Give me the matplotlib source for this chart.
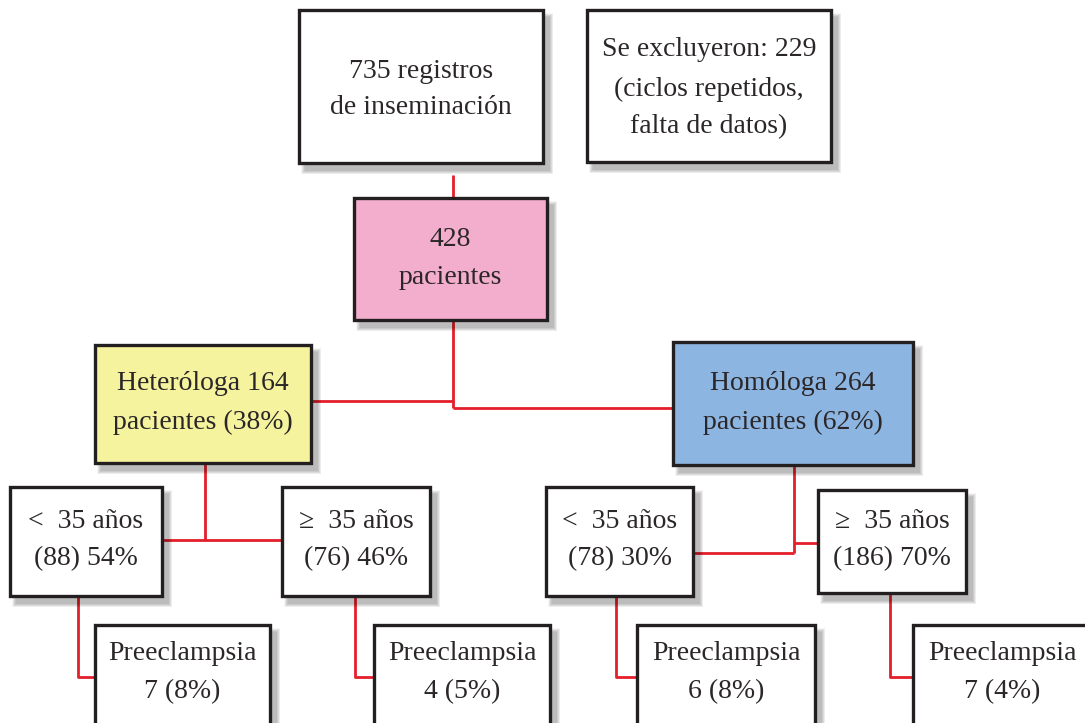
import matplotlib
matplotlib.use("Agg")
import matplotlib.pyplot as plt
from matplotlib.patches import Rectangle

# ---- data (texts) ----
top_labels = ["735 registros\nde inseminación", "Se excluyeron: 229\n(ciclos repetidos,\nfalta de datos)"]
total_label = "428\npacientes"
group_labels = ["Heteróloga 164\npacientes (38%)", "Homóloga 264\npacientes (62%)"]
age_labels = ["<  35 años\n(88) 54%", "≥  35 años\n(76) 46%", "<  35 años\n(78) 30%", "≥  35 años\n(186) 70%"]
pre_labels = ["Preeclampsia\n7 (8%)", "Preeclampsia\n4 (5%)", "Preeclampsia\n6 (8%)", "Preeclampsia\n7 (4%)"]

W, H = 1085, 723
fig = plt.figure(figsize=(W / 100, H / 100), dpi=100)
ax = fig.add_axes([0, 0, 1, 1])
ax.set_xlim(0, W)
ax.set_ylim(H, 0)
ax.axis("off")

RED = "#E41E2B"
EDGE = "#231F20"
FONT = "Liberation Serif"
FS = 20
LW_RED = 2.0
TXT = "#2B2728"


def box(x0, y0, x1, y1, text, fc="white", line_ys=None):
    # soft shadow: stacked translucent rectangles
    dx, dy = 6, 7
    for k in range(8):
        g = 8 - k  # spread
        ax.add_patch(Rectangle((x0 + dx - g / 2, y0 + dy - g / 2), (x1 - x0) + g, (y1 - y0) + g,
                               fc="black", ec="none", alpha=0.035, zorder=2))
    ax.add_patch(Rectangle((x0, y0), x1 - x0, y1 - y0, fc=fc, ec=EDGE, lw=2.4, zorder=3))
    lines = text.split("\n")
    for t, y in zip(lines, line_ys):
        ax.text((x0 + x1) / 2, y + 2, t, ha="center", va="center", fontsize=FS, family=FONT,
                color=TXT, zorder=4)


def seg(xs, ys):
    ax.plot(xs, ys, color=RED, lw=LW_RED, zorder=1, solid_capstyle="butt")


# connectors
seg([453, 453], [175, 198])
seg([453, 453], [320, 408])
seg([453, 673], [408, 408])
seg([311, 453], [401, 401])
seg([205, 205], [463, 540])
seg([162, 282], [540, 540])
seg([794, 794], [465, 553])
seg([693, 794], [553, 553])
seg([794, 818], [543, 543])
for xl, xb, yt in [(78, 95, 596), (355, 374, 596), (616, 637, 596), (890, 913, 593)]:
    seg([xl, xl, xb], [yt, 677, 677])

# boxes
box(299, 10, 543, 163, top_labels[0], line_ys=[69, 105])
box(587, 10, 831, 162, top_labels[1], line_ys=[48, 87, 125])
box(354, 198, 547, 320, total_label, fc="#F3ADCD", line_ys=[238, 276])
box(95, 345, 311, 463, group_labels[0], fc="#F5F39E", line_ys=[382, 420])
box(673, 342, 913, 465, group_labels[1], fc="#8DB5E1", line_ys=[382, 420])
age_boxes = [(10, 487, 162, 596), (282, 487, 430, 596), (546, 487, 693, 596), (818, 490, 966, 593)]
for (x0, y0, x1, y1), t in zip(age_boxes, age_labels):
    box(x0, y0, x1, y1, t, line_ys=[520, 557])
pre_boxes = [(95, 625, 270), (374, 625, 550), (637, 625, 815), (913, 625, 1092)]
for (x0, y0, x1), t in zip(pre_boxes, pre_labels):
    box(x0, y0, x1, 735, t, line_ys=[652, 690])

fig.savefig("out.png", dpi=100)
